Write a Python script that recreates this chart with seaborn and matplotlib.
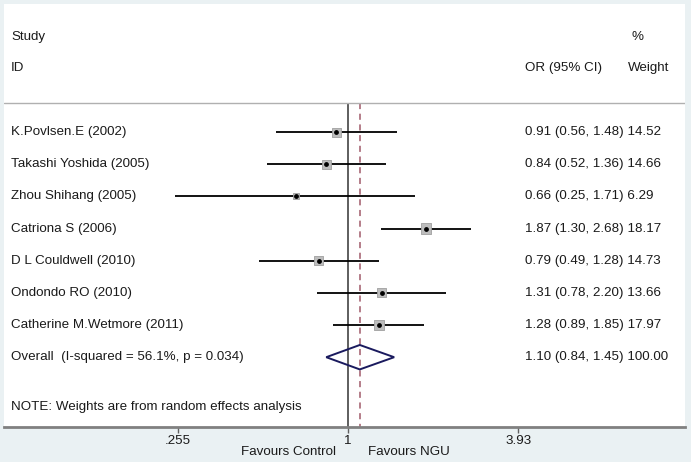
import numpy as np
import pandas as pd
import matplotlib.pyplot as plt
import matplotlib.transforms as mtransforms
from matplotlib.patches import Polygon
import seaborn as sns

# study data
studies = ["K.Povlsen.E (2002)", "Takashi Yoshida (2005)", "Zhou Shihang (2005)",
           "Catriona S (2006)", "D L Couldwell (2010)", "Ondondo RO (2010)",
           "Catherine M.Wetmore (2011)"]
odds_ratio = [0.91, 0.84, 0.66, 1.87, 0.79, 1.31, 1.28]
ci_low = [0.56, 0.52, 0.25, 1.30, 0.49, 0.78, 0.89]
ci_high = [1.48, 1.36, 1.71, 2.68, 1.28, 2.20, 1.85]
weights = [14.52, 14.66, 6.29, 18.17, 14.73, 13.66, 17.97]

overall_label = "Overall  (I-squared = 56.1%, p = 0.034)"
overall_or, overall_low, overall_high, overall_weight = 1.10, 0.84, 1.45, 100.00

tick_values = [0.255, 1, 3.93]
tick_labels = [".255", "1", "3.93"]

df = pd.DataFrame({"study": studies, "est": odds_ratio, "lo": ci_low,
                   "hi": ci_high, "w": weights})
df["row"] = np.arange(len(df))

sns.set_theme(style="white")
plt.rcParams['font.family'] = ['Liberation Sans', 'DejaVu Sans']
fs = 9.6
txt_col = "#1a1a1a"

fig = plt.figure(figsize=(6.91, 4.62), dpi=100)
fig.patch.set_facecolor("#eaf1f3")
ax = fig.add_axes([4 / 691, 35 / 462, 681 / 691, 423 / 462])
ax.set_facecolor("white")
ax.set_xscale("log")
ax.set_xlim(0.0630, 15.02)
ax.set_ylim(9.17, -3.98)

# confidence intervals
ax.hlines(df["row"], df["lo"], df["hi"], color="black", lw=1.3, zorder=3)
# weighted squares (area ~ weight) + point estimates
sns.scatterplot(data=df, x="est", y="row", size="w", sizes=(6.29 * 2.9, 18.17 * 2.9),
                size_norm=(6.29, 18.17), marker="s", color="#bdbdbd",
                edgecolor="#a0a0a0", linewidth=0.6, legend=False, ax=ax, zorder=4)
ax.scatter(df["est"], df["row"], s=6, color="black", zorder=5)

# overall diamond
n = len(df)
diamond = Polygon([[overall_low, n], [overall_or, n - 0.38], [overall_high, n],
                   [overall_or, n + 0.38]], closed=True, fill=False,
                  edgecolor="#1a1a5e", lw=1.4, zorder=4)
ax.add_patch(diamond)

# reference lines
ax.vlines(1, -0.9, 9.17, color="#333333", lw=1.1, zorder=2)
ax.vlines(overall_or, -0.9, 9.17, color="#a05a6a", lw=1.1, linestyles=(0, (4, 3)), zorder=2)
ax.axhline(-0.9, color="#b0b0b0", lw=1.0)

# text columns
tr = mtransforms.blended_transform_factory(ax.transAxes, ax.transData)
lx = 7 / 681
cx = 521 / 681
ax.text(lx, -2.95, "Study", transform=tr, fontsize=fs, va="center", color=txt_col)
ax.text(lx, -1.99, "ID", transform=tr, fontsize=fs, va="center", color=txt_col)
ax.text(cx, -1.99, "OR (95% CI)", transform=tr, fontsize=fs, va="center", color=txt_col)
ax.text(627 / 681, -2.95, "%", transform=tr, fontsize=fs, va="center", color=txt_col)
ax.text(624 / 681, -1.99, "Weight", transform=tr, fontsize=fs, va="center", color=txt_col)

for r in df.itertuples():
    ax.text(lx, r.row, r.study, transform=tr, fontsize=fs, va="center", color=txt_col)
    ax.text(cx, r.row, f"{r.est:.2f} ({r.lo:.2f}, {r.hi:.2f}) {r.w:.2f}",
            transform=tr, fontsize=fs, va="center", color=txt_col)
ax.text(lx, n, overall_label, transform=tr, fontsize=fs, va="center", color=txt_col)
ax.text(cx, n, f"{overall_or:.2f} ({overall_low:.2f}, {overall_high:.2f}) {overall_weight:.2f}",
        transform=tr, fontsize=fs, va="center", color=txt_col)
ax.text(lx, 8.55, "NOTE: Weights are from random effects analysis", transform=tr,
        fontsize=fs, va="center", color=txt_col)

# x axis
sns.despine(ax=ax, left=True, top=True, right=True)
ax.set_xlabel("")
ax.set_ylabel("")
ax.spines["bottom"].set_color("#808080")
ax.spines["bottom"].set_linewidth(2)
ax.set_yticks([])
ax.set_xticks(tick_values)
ax.set_xticklabels(tick_labels, fontsize=fs, color=txt_col)
ax.xaxis.set_minor_locator(plt.NullLocator())
ax.tick_params(axis="x", which="major", direction="out", length=4, width=1,
               color="#606060", pad=1.5, bottom=True)

tb = mtransforms.blended_transform_factory(ax.transData, ax.transAxes)
ax.text(0.62, -0.059, "Favours Control", transform=tb, fontsize=fs, ha="center",
        va="center", color=txt_col)
ax.text(1.63, -0.059, "Favours NGU", transform=tb, fontsize=fs, ha="center",
        va="center", color=txt_col)

fig.savefig("out.png", dpi=100, facecolor=fig.get_facecolor())
